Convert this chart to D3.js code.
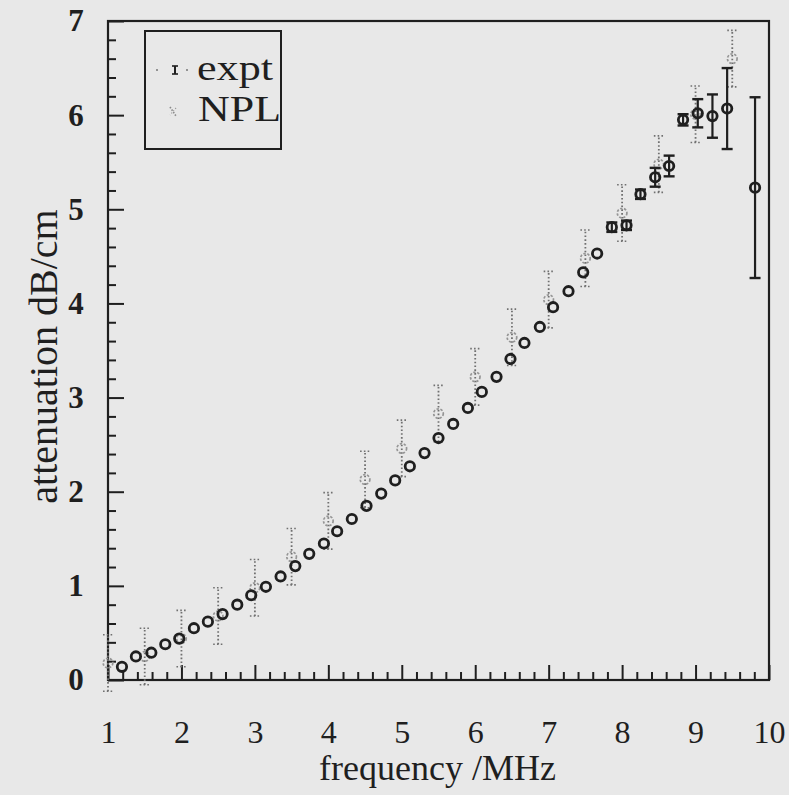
<!DOCTYPE html>
<html><head><meta charset="utf-8">
<script src="https://cdn.jsdelivr.net/npm/d3@7"></script>
<style>html,body{margin:0;padding:0;background:#e8e8e8;} svg{display:block;}</style>
</head><body><svg id="c" width="789" height="795"></svg>
<script>
// ---- data ----
const exptFreq = [1.19,1.38,1.59,1.78,1.97,2.17,2.36,2.56,2.76,2.95,3.15,3.35,3.55,3.74,3.94,4.12,4.32,4.52,4.72,4.91,5.11,5.31,5.50,5.70,5.90,6.09,6.29,6.48,6.67,6.88,7.06,7.27,7.47,7.66,7.86,8.06,8.25,8.45,8.64,8.83,9.03,9.23,9.43,9.81];
const exptAtt  = [0.14,0.25,0.29,0.38,0.44,0.55,0.62,0.70,0.80,0.90,0.99,1.10,1.21,1.34,1.45,1.58,1.71,1.85,1.98,2.12,2.27,2.41,2.57,2.72,2.89,3.06,3.22,3.41,3.58,3.75,3.96,4.13,4.33,4.53,4.81,4.83,5.16,5.34,5.46,5.95,6.02,5.99,6.07,5.23];
const exptErr  = [0,0,0,0,0,0,0,0,0,0,0,0,0,0,0,0,0,0,0,0,0,0,0,0,0,0,0,0,0,0,0,0,0,0,0.05,0.05,0.05,0.10,0.11,0.06,0.15,0.23,0.43,0.96];
const nplFreq  = [1.0,1.5,2.0,2.5,3.0,3.5,4.0,4.5,5.0,5.5,6.0,6.5,7.0,7.5,8.0,8.5,9.0,9.5];
const nplAtt   = [0.18,0.25,0.44,0.68,0.98,1.31,1.69,2.13,2.46,2.83,3.22,3.64,4.04,4.48,4.96,5.48,6.01,6.60];
const nplErr   = [0.3,0.3,0.3,0.3,0.3,0.3,0.3,0.3,0.3,0.3,0.3,0.3,0.3,0.3,0.3,0.3,0.3,0.3];
const xTicks   = [1,2,3,4,5,6,7,8,9,10];
const yTicks   = [0,1,2,3,4,5,6,7];
const seriesNames = ["expt","NPL"];
const xTitle = "frequency /MHz";
const yTitle = "attenuation dB/cm";

// ---- layout ----
const W = 789, H = 795;
const ink = "#1f1f1f";
const bg = "#e8e8e8";
const serif = '"Liberation Serif","Times New Roman",Times,serif';
const svg = d3.select("#c");
svg.append("rect").attr("width", W).attr("height", H).attr("fill", bg);

const x = d3.scaleLinear().domain([1, 10]).range([108, 769]);
const y = d3.scaleLinear().domain([0, 7]).range([680, 21]);

const xMinor = d3.range(10, 100, 2).map(v => v / 10).filter(v => Math.abs(v - Math.round(v)) > 1e-6);
const yMinor = d3.range(0, 70, 2).map(v => v / 10).filter(v => Math.abs(v - Math.round(v)) > 1e-6);

function styleAxis(g) {
  g.select(".domain").remove();
  g.selectAll(".tick line").attr("stroke", ink).attr("stroke-width", 2);
}

// minor ticks
svg.append("g").attr("transform", `translate(0,${y(0)})`)
  .call(d3.axisBottom(x).tickValues(xMinor).tickSize(-8).tickSizeOuter(0).tickFormat(""))
  .call(styleAxis);
svg.append("g").attr("transform", `translate(${x(1)},0)`)
  .call(d3.axisLeft(y).tickValues(yMinor).tickSize(-8).tickSizeOuter(0).tickFormat(""))
  .call(styleAxis);

// major ticks + labels
const gx = svg.append("g").attr("transform", `translate(0,${y(0)})`)
  .call(d3.axisBottom(x).tickValues(xTicks).tickSize(-15).tickSizeOuter(0).tickPadding(40).tickFormat(d3.format("d")))
  .call(styleAxis);
gx.selectAll("text").attr("font-family", serif).attr("font-size", 32).attr("fill", ink);

const gy = svg.append("g").attr("transform", `translate(${x(1)},0)`)
  .call(d3.axisLeft(y).tickValues(yTicks).tickSize(-16).tickSizeOuter(0).tickPadding(24).tickFormat(d3.format("d")))
  .call(styleAxis);
gy.selectAll("text").attr("font-family", serif).attr("font-size", 31).attr("font-weight", "bold")
  .attr("fill", ink).attr("text-anchor", "middle").attr("x", -32);

// frame
svg.append("rect")
  .attr("x", x(1)).attr("y", y(7))
  .attr("width", x(10) - x(1)).attr("height", y(0) - y(7))
  .attr("fill", "none").attr("stroke", ink).attr("stroke-width", 2.2);

// ---- NPL series (dotted error bars, dashed open circles) ----
const npl = nplFreq.map((f, i) => ({ f, v: nplAtt[i], e: nplErr[i] }));
const gN = svg.append("g").attr("stroke", "#707070").attr("fill", "none");
gN.selectAll("line.bar").data(npl).join("line").attr("class", "bar")
  .attr("x1", d => x(d.f)).attr("x2", d => x(d.f))
  .attr("y1", d => y(d.v - d.e)).attr("y2", d => y(d.v + d.e))
  .attr("stroke-width", 1.8).attr("stroke-dasharray", "1.6,2.2");
gN.selectAll("line.capT").data(npl).join("line").attr("class", "capT")
  .attr("x1", d => x(d.f) - 5).attr("x2", d => x(d.f) + 5)
  .attr("y1", d => y(d.v + d.e)).attr("y2", d => y(d.v + d.e))
  .attr("stroke-width", 1.6).attr("stroke-dasharray", "1.6,2.2");
gN.selectAll("line.capB").data(npl).join("line").attr("class", "capB")
  .attr("x1", d => x(d.f) - 5).attr("x2", d => x(d.f) + 5)
  .attr("y1", d => y(d.v - d.e)).attr("y2", d => y(d.v - d.e))
  .attr("stroke-width", 1.6).attr("stroke-dasharray", "1.6,2.2");
gN.selectAll("circle").data(npl).join("circle")
  .attr("cx", d => x(d.f)).attr("cy", d => y(d.v)).attr("r", 4.8)
  .attr("stroke", "#959595").attr("stroke-width", 1.7).attr("stroke-dasharray", "2.4,1.6");

// ---- expt series (solid error bars, open circles) ----
const ex = exptFreq.map((f, i) => ({ f, v: exptAtt[i], e: exptErr[i] }));
const exErr = ex.filter(d => d.e > 0);
const gE = svg.append("g").attr("stroke", ink).attr("fill", "none");
gE.selectAll("line.bar").data(exErr).join("line").attr("class", "bar")
  .attr("x1", d => x(d.f)).attr("x2", d => x(d.f))
  .attr("y1", d => y(d.v - d.e)).attr("y2", d => y(d.v + d.e))
  .attr("stroke-width", 2.2);
gE.selectAll("line.capT").data(exErr).join("line").attr("class", "capT")
  .attr("x1", d => x(d.f) - 5.5).attr("x2", d => x(d.f) + 5.5)
  .attr("y1", d => y(d.v + d.e)).attr("y2", d => y(d.v + d.e))
  .attr("stroke-width", 2.4);
gE.selectAll("line.capB").data(exErr).join("line").attr("class", "capB")
  .attr("x1", d => x(d.f) - 5.5).attr("x2", d => x(d.f) + 5.5)
  .attr("y1", d => y(d.v - d.e)).attr("y2", d => y(d.v - d.e))
  .attr("stroke-width", 2.4);
gE.selectAll("circle").data(ex).join("circle")
  .attr("cx", d => x(d.f)).attr("cy", d => y(d.v)).attr("r", 4.7)
  .attr("fill", "none").attr("stroke-width", 2.8);

// ---- axis titles ----
svg.append("text").attr("x", (x(1) + x(10)) / 2 - 1).attr("y", 780)
  .attr("text-anchor", "middle").attr("font-family", serif).attr("font-size", 36).attr("fill", ink)
  .text(xTitle);
svg.append("text").attr("transform", `translate(57,${(y(0) + y(7)) / 2 + 6}) rotate(-90)`)
  .attr("text-anchor", "middle").attr("font-family", serif).attr("font-size", 40).attr("fill", ink)
  .text(yTitle);

// ---- legend ----
const lg = svg.append("g");
lg.append("rect").attr("x", 145).attr("y", 31).attr("width", 136).attr("height", 118)
  .attr("fill", "none").attr("stroke", ink).attr("stroke-width", 2);
// expt sample: tiny error bar with dots
lg.append("line").attr("x1", 175).attr("x2", 175).attr("y1", 66).attr("y2", 74).attr("stroke", ink).attr("stroke-width", 2);
lg.append("line").attr("x1", 172).attr("x2", 178).attr("y1", 66).attr("y2", 66).attr("stroke", ink).attr("stroke-width", 1.6);
lg.append("line").attr("x1", 172).attr("x2", 178).attr("y1", 74).attr("y2", 74).attr("stroke", ink).attr("stroke-width", 1.6);
lg.append("circle").attr("cx", 157).attr("cy", 70).attr("r", 1).attr("fill", "#777");
lg.append("circle").attr("cx", 187).attr("cy", 70).attr("r", 1).attr("fill", "#777");
// NPL sample: small dotted mark
lg.append("line").attr("x1", 170).attr("x2", 176).attr("y1", 107).attr("y2", 116)
  .attr("stroke", "#8a8a8a").attr("stroke-width", 1.6).attr("stroke-dasharray", "1.5,1.5");
lg.append("line").attr("x1", 176).attr("x2", 170).attr("y1", 108).attr("y2", 115)
  .attr("stroke", "#9a9a9a").attr("stroke-width", 1.2).attr("stroke-dasharray", "1.2,1.8");
lg.append("text").attr("x", 197).attr("y", 80).attr("font-family", serif).attr("font-size", 36)
  .attr("textLength", 76).attr("lengthAdjust", "spacingAndGlyphs").attr("fill", ink).text(seriesNames[0]);
lg.append("text").attr("x", 198).attr("y", 121).attr("font-family", serif).attr("font-size", 35)
  .attr("textLength", 83).attr("lengthAdjust", "spacingAndGlyphs").attr("fill", ink).text(seriesNames[1]);
</script></body></html>
